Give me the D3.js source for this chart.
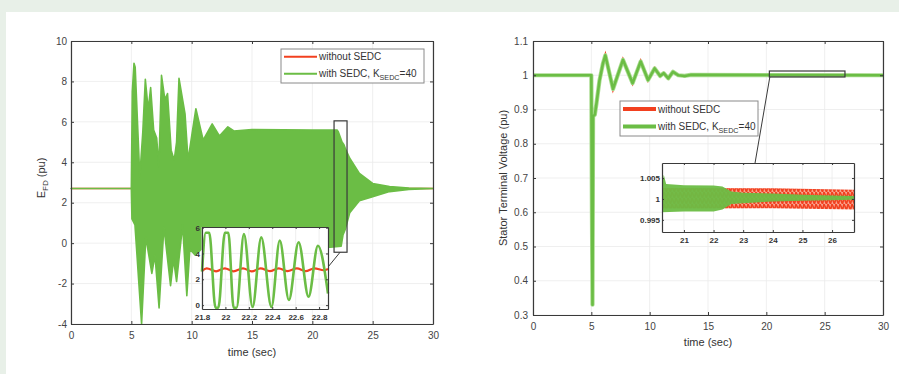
<!DOCTYPE html>
<html>
<head>
<meta charset="utf-8">
<script src="https://cdn.jsdelivr.net/npm/d3@7"></script>
<style>
  body { margin: 0; background: #e8f0e8; }
  svg { display: block; font-family: "Liberation Sans", Arial, sans-serif; }
</style>
</head>
<body>
<svg id="chart" width="899" height="374"></svg>
<script>
// ---- data ----
// E_FD, with SEDC: upper / lower envelope of the dense oscillation [t, pu]
const efdUpper = [[0, 2.7], [5.0, 2.7], [5.08, 7.5], [5.22, 8.9], [5.32, 8.7], [5.7, 3.3],
  [5.95, 5.5], [6.16, 8.1], [6.4, 6.6], [6.6, 7.7], [6.85, 5.6], [7.1, 5.2], [7.28, 3.8],
  [7.5, 8.3], [7.78, 7.1], [8.0, 7.4], [8.3, 4.6], [8.55, 4.1], [8.75, 5.0],
  [8.95, 8.15], [9.45, 6.4], [9.7, 4.1], [10.0, 5.3], [10.35, 6.65], [10.95, 5.1],
  [11.7, 5.9], [12.3, 5.3], [13.0, 5.75], [13.5, 5.55], [15, 5.62], [20, 5.6],
  [22.05, 5.6], [22.16, 5.5], [22.31, 5.25], [22.46, 5.0], [22.62, 4.87], [22.79, 4.6],
  [23.1, 4.2], [23.9, 3.45], [25.0, 2.95], [26.4, 2.8], [28, 2.72], [30, 2.7]];
const efdLower = [[0, 2.7], [5.0, 2.7], [5.05, 1.2], [5.3, 0.9], [5.85, -4.0], [6.2, 0.3],
  [6.7, -1.5], [6.96, -0.6], [7.3, -3.2], [7.7, 0.8], [8.25, -2.1], [8.5, -0.8],
  [8.75, -1.9], [9.25, 0.9], [9.6, -2.6], [9.85, -0.3], [10.3, -0.6], [10.8, -0.3],
  [15, -0.2], [21.5, -0.2], [22.39, -0.15], [22.54, 0.4], [22.71, 0.65], [22.87, 1.0],
  [23.1, 1.5], [23.9, 2.1], [25.0, 2.3], [26.4, 2.55], [28, 2.65], [30, 2.7]];
// E_FD, without SEDC (main view)
const efdRed = [[0, 2.7], [30, 2.7]];

// E_FD zoom 21.8 .. 22.88 s
const zoomEfdT = [21.8, 21.832, 21.862, 21.915, 21.94, 21.995, 22.025, 22.07, 22.095,
  22.158, 22.232, 22.306, 22.393, 22.464, 22.542, 22.625, 22.71, 22.79, 22.876];
const zoomEfdGreen = [2.6, 5.6, 5.6, -0.2, -0.2, 5.6, 5.6, -0.2, -0.2,
  5.5, -0.15, 5.25, -0.15, 5.0, 0.4, 4.87, 0.65, 4.6, 0.9];
const zoomEfdRedT = [21.8, 21.84, 21.92, 21.995, 22.07, 22.15, 22.225, 22.3, 22.38,
  22.455, 22.53, 22.61, 22.685, 22.76, 22.84, 22.876];
const zoomEfdRed = [2.65, 2.85, 2.62, 2.85, 2.62, 2.84, 2.62, 2.84, 2.63,
  2.85, 2.63, 2.84, 2.63, 2.85, 2.7, 2.8];

// Stator terminal voltage (both cases coincide at this scale)
const vtT = [0, 5.0, 5.05, 5.1, 5.15, 5.3, 5.45, 5.7, 6.0, 6.2, 6.86, 7.71, 8.54, 9.23,
  9.86, 10.43, 10.9, 11.2, 11.6, 12.0, 12.45, 13.0, 13.5, 30];
const vtV = [1.0, 1.0, 0.6, 0.33, 0.88, 0.885, 0.92, 0.985, 1.035, 1.058, 0.96, 1.045,
  0.977, 1.04, 0.986, 1.02, 0.998, 1.006, 0.991, 1.01, 1.0, 0.998, 1.001, 1.0];

// Voltage zoom 20.26 .. 26.74 s: envelopes of the fast ripple [t, pu]
const zoomVtGreenUp = [[20.26, 1.0035], [20.32, 1.0058], [20.4, 1.0036], [21, 1.0033],
  [22, 1.0032], [22.3, 1.003], [22.6, 1.0018], [23, 1.0015], [24, 1.0013], [25, 1.001], [26.74, 1.0007]];
const zoomVtGreenLo = [[20.26, 0.9968], [21, 0.997], [22, 0.997], [22.3, 0.9975],
  [22.6, 0.9988], [23, 0.999], [24, 0.9994], [25, 0.9996], [26.74, 0.9998]];
const zoomVtRedUp = [[20.26, 1.0026], [24, 1.00255], [26.74, 1.0022]];
const zoomVtRedLo = [[20.26, 0.9977], [24, 0.9978], [26.74, 0.9975]];

// ticks
const mainXTicks = [0, 5, 10, 15, 20, 25, 30];
const efdYTicks = [-4, -2, 0, 2, 4, 6, 8, 10];
const vtYTicks = [0.3, 0.4, 0.5, 0.6, 0.7, 0.8, 0.9, 1, 1.1];
const zoomEfdXTicks = [21.8, 22, 22.2, 22.4, 22.6, 22.8];
const zoomEfdYTicks = [0, 2, 4, 6];
const zoomVtXTicks = [21, 22, 23, 24, 25, 26];
const zoomVtYTicks = [0.995, 1, 1.005];

const RED = '#f2401f';
const GREEN = '#6bbd45';
const INK = '#3a3a3a';

const svg = d3.select('#chart');
svg.append('rect').attr('x', 6).attr('y', 12).attr('width', 893).attr('height', 362).attr('fill', '#fff');

// ripple texture for the dense red band in the voltage inset
const pat = svg.append('defs').append('pattern').attr('id', 'redRipple')
  .attr('patternUnits', 'userSpaceOnUse').attr('width', 4).attr('height', 6);
pat.append('rect').attr('width', 4).attr('height', 6).attr('fill', '#f9a48f');
pat.append('path').attr('d', 'M0,0 L2.5,6 L4,0').attr('fill', 'none')
  .attr('stroke', RED).attr('stroke-width', 1.6);

// scales
const xL = d3.scaleLinear([0, 30], [71, 433]);
const yL = d3.scaleLinear([-4, 10], [324, 41]);
const xR = d3.scaleLinear([0, 30], [533, 883]);
const yR = d3.scaleLinear([0.3, 1.1], [315, 41]);
const xLi = d3.scaleLinear([21.8, 22.876], [202, 328]);
const yLi = d3.scaleLinear([-0.3, 6.05], [309, 227]);
const xRi = d3.scaleLinear([20.26, 26.74], [662, 854]);
const yRi = d3.scaleLinear([0.9921, 1.0086], [232, 163]);

function grid(g, x, y, xt, yt) {
  const [x0, x1] = x.range(), [y0, y1] = y.range();
  g.append('g').selectAll('line').data(xt).join('line')
    .attr('x1', d => x(d)).attr('x2', d => x(d)).attr('y1', y0).attr('y2', y1)
    .attr('stroke', '#ebebeb').attr('stroke-width', 0.8);
  g.append('g').selectAll('line').data(yt).join('line')
    .attr('y1', d => y(d)).attr('y2', d => y(d)).attr('x1', x0).attr('x2', x1)
    .attr('stroke', '#ebebeb').attr('stroke-width', 0.8);
}

function frame(g, x, y, xt, yt, o) {
  const [x0, x1] = x.range(), [yb, yt0] = y.range();
  const fmt = o.fmt || (d => d);
  const styleAx = sel => {
    sel.selectAll('path.domain').attr('stroke', INK).attr('stroke-width', 1.2);
    sel.selectAll('.tick line').attr('stroke', INK);
    sel.selectAll('text').attr('fill', o.tc || '#444').attr('font-size', o.fs)
      .attr('font-weight', o.fw || 'normal');
  };
  g.append('g').attr('transform', `translate(0,${yb})`)
    .call(d3.axisBottom(x).tickValues(xt).tickSizeInner(-o.tick).tickSizeOuter(0)
      .tickPadding(o.padX).tickFormat(fmt)).call(styleAx);
  g.append('g').attr('transform', `translate(0,${yt0})`)
    .call(d3.axisTop(x).tickValues(xt).tickSizeInner(-o.tick).tickSizeOuter(0).tickFormat(''))
    .call(styleAx);
  g.append('g').attr('transform', `translate(${x0},0)`)
    .call(d3.axisLeft(y).tickValues(yt).tickSizeInner(-o.tick).tickSizeOuter(0)
      .tickPadding(o.padY).tickFormat(o.yfmt || fmt)).call(styleAx);
  g.append('g').attr('transform', `translate(${x1},0)`)
    .call(d3.axisRight(y).tickValues(yt).tickSizeInner(-o.tick).tickSizeOuter(0).tickFormat(''))
    .call(styleAx);
  g.selectAll('.domain').attr('fill', 'none');
  g.selectAll('text').style('font-family', '"Liberation Sans", Arial, sans-serif');
}

function envelope(x, y, up, lo) {
  const pts = up.concat(lo.slice().reverse());
  return d3.line().x(d => x(d[0])).y(d => y(d[1]))(pts) + 'Z';
}

function legend(g, bx, by, bw, bh, lw, fs) {
  g.append('rect').attr('x', bx).attr('y', by).attr('width', bw).attr('height', bh)
    .attr('fill', '#fff').attr('stroke', '#8a8a8a').attr('stroke-width', 1);
  const rows = [{ c: RED, y: by + bh * 0.23 }, { c: GREEN, y: by + bh * 0.73 }];
  rows.forEach(r => g.append('line').attr('x1', bx + 3).attr('x2', bx + 36)
    .attr('y1', r.y).attr('y2', r.y).attr('stroke', r.c).attr('stroke-width', lw));
  g.append('text').attr('x', bx + 38).attr('y', rows[0].y + 3.5).attr('font-size', fs)
    .attr('fill', '#333').text('without SEDC');
  const t = g.append('text').attr('x', bx + 38).attr('y', rows[1].y + 3.5)
    .attr('font-size', fs).attr('fill', '#333');
  t.append('tspan').text('with SEDC, K');
  t.append('tspan').attr('font-size', fs * 0.72).attr('dy', 3).text('SEDC');
  t.append('tspan').attr('dy', -3).text('=40');
}

// ---------------- left panel: E_FD ----------------
const gL = svg.append('g');
grid(gL, xL, yL, mainXTicks, efdYTicks);
gL.append('path').attr('d', d3.line().x(d => xL(d[0])).y(d => yL(d[1]))(efdRed))
  .attr('fill', 'none').attr('stroke', RED).attr('stroke-width', 1.5);
gL.append('path').attr('d', envelope(xL, yL, efdUpper, efdLower))
  .attr('fill', GREEN).attr('stroke', GREEN).attr('stroke-width', 1.6)
  .attr('stroke-linejoin', 'round');
frame(gL, xL, yL, mainXTicks, efdYTicks, { tick: 3, padX: 8, padY: 4, fs: 10 });

// zoom box + connector
gL.append('rect').attr('x', xL(21.8)).attr('y', yL(6.05))
  .attr('width', xL(22.876) - xL(21.8)).attr('height', yL(-0.45) - yL(6.05))
  .attr('fill', 'none').attr('stroke', INK).attr('stroke-width', 1.2);
gL.append('line').attr('x1', xL(22.3)).attr('y1', yL(-0.45))
  .attr('x2', xLi(22.876)).attr('y2', yLi(2.95)).attr('stroke', INK).attr('stroke-width', 1);

// inset
const gLi = svg.append('g');
gLi.append('rect').attr('x', 202).attr('y', 227).attr('width', 126).attr('height', 82).attr('fill', '#fff');
grid(gLi, xLi, yLi, zoomEfdXTicks, zoomEfdYTicks);
gLi.append('path')
  .attr('d', d3.line().x(d => xLi(d[0])).y(d => yLi(d[1])).curve(d3.curveMonotoneX)(zoomEfdRedT.map((t, i) => [t, zoomEfdRed[i]])))
  .attr('fill', 'none').attr('stroke', RED).attr('stroke-width', 2.2);
gLi.append('path')
  .attr('d', d3.line().x(d => xLi(d[0])).y(d => yLi(d[1])).curve(d3.curveMonotoneX)(zoomEfdT.map((t, i) => [t, zoomEfdGreen[i]])))
  .attr('fill', 'none').attr('stroke', GREEN).attr('stroke-width', 2.6);
frame(gLi, xLi, yLi, zoomEfdXTicks, zoomEfdYTicks, { tick: 2, padX: 5, padY: 2, fs: 8, fw: 'bold', tc: '#333' });

legend(gL, 281, 49, 143, 34, 2, 10);

// axis labels
gL.append('text').attr('x', xL(15)).attr('y', 356).attr('text-anchor', 'middle')
  .attr('font-size', 11).attr('fill', '#333').text('time (sec)');
const yl = gL.append('text').attr('transform', 'translate(45,178) rotate(-90)')
  .attr('text-anchor', 'middle').attr('font-size', 11).attr('fill', '#333');
yl.append('tspan').text('E');
yl.append('tspan').attr('font-size', 8).attr('dy', 3).text('FD');
yl.append('tspan').attr('dy', -3).text('  (pu)');

// ---------------- right panel: terminal voltage ----------------
const gR = svg.append('g');
grid(gR, xR, yR, mainXTicks, vtYTicks);
const vtPts = vtT.map((t, i) => [t, vtV[i]]);
const lineR = d3.line().x(d => xR(d[0])).y(d => yR(d[1]));
gR.append('path').attr('d', lineR(vtPts)).attr('fill', 'none').attr('stroke', RED).attr('stroke-width', 2.5);
gR.append('path').attr('d', lineR(vtPts)).attr('fill', 'none').attr('stroke', '#a9dc8f')
  .attr('stroke-width', 4.2).attr('stroke-linejoin', 'round');
gR.append('path').attr('d', lineR(vtPts)).attr('fill', 'none').attr('stroke', GREEN)
  .attr('stroke-width', 2.6).attr('stroke-linejoin', 'round');
frame(gR, xR, yR, mainXTicks, vtYTicks, { tick: 3, padX: 8, padY: 5, fs: 10 });

gR.append('rect').attr('x', xR(20.26)).attr('y', yR(1.0124))
  .attr('width', xR(26.74) - xR(20.26)).attr('height', yR(0.995) - yR(1.0124))
  .attr('fill', 'none').attr('stroke', INK).attr('stroke-width', 1.2);
gR.append('line').attr('x1', xR(20.3)).attr('y1', yR(0.995))
  .attr('x2', xRi(23.4)).attr('y2', 163).attr('stroke', INK).attr('stroke-width', 1);

legend(gR, 620, 101, 138, 35, 4, 10);

const gRi = svg.append('g');
gRi.append('rect').attr('x', 662).attr('y', 163).attr('width', 192).attr('height', 69).attr('fill', '#fff');
grid(gRi, xRi, yRi, zoomVtXTicks, zoomVtYTicks);
gRi.append('path').attr('d', envelope(xRi, yRi, zoomVtRedUp, zoomVtRedLo))
  .attr('fill', 'url(#redRipple)');
gRi.append('path').attr('d', envelope(xRi, yRi, zoomVtGreenUp, zoomVtGreenLo))
  .attr('fill', GREEN).attr('fill-opacity', 0.95);
frame(gRi, xRi, yRi, zoomVtXTicks, zoomVtYTicks,
  { tick: 2, padX: 5, padY: 2, fs: 8, fw: 'bold', tc: '#333', yfmt: d => d });

gR.append('text').attr('x', xR(15)).attr('y', 346).attr('text-anchor', 'middle')
  .attr('font-size', 11).attr('fill', '#333').text('time (sec)');
gR.append('text').attr('transform', 'translate(507,178) rotate(-90)')
  .attr('text-anchor', 'middle').attr('font-size', 11).attr('fill', '#333')
  .text('Stator Terminal Voltage (pu)');
</script>
</body>
</html>
